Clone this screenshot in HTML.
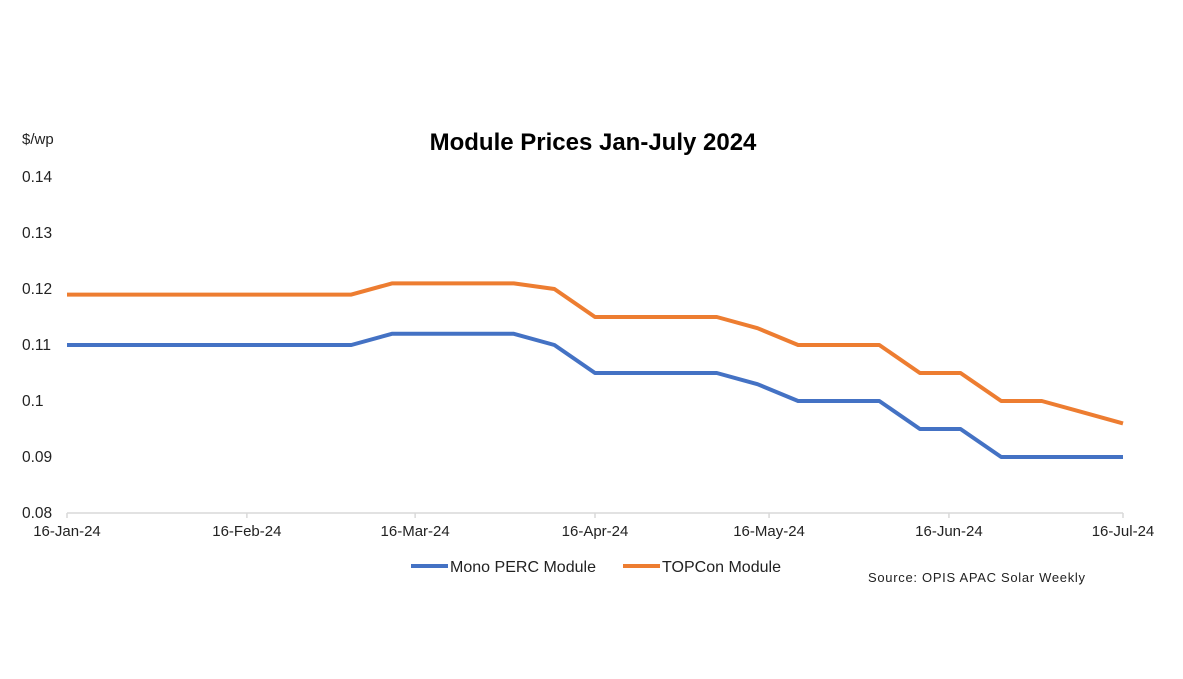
<!DOCTYPE html>
<html><head><meta charset="utf-8"><style>
html,body{margin:0;padding:0;background:#fff;}
svg{display:block;font-family:"Liberation Sans",Arial,sans-serif;}
</style></head><body>
<svg id="chart" width="1183" height="679" viewBox="0 0 1183 679">
<text x="593" y="150" text-anchor="middle" font-size="24" font-weight="bold" fill="#000">Module Prices Jan-July 2024</text>
<text x="22" y="144" font-size="15" fill="#222">$/wp</text>
<g id="yticks"></g>
<line x1="67" y1="513" x2="1123" y2="513" stroke="#d9d9d9" stroke-width="1.5"/>
<g id="xticks"></g>
<g id="series"></g>
<g>
<line x1="411" y1="566" x2="448" y2="566" stroke="#4472C4" stroke-width="4"/>
<text x="450" y="572" font-size="16" fill="#222" textLength="146">Mono PERC Module</text>
<line x1="623" y1="566" x2="660" y2="566" stroke="#ED7D31" stroke-width="4"/>
<text x="662" y="572" font-size="16" fill="#222" textLength="119">TOPCon Module</text>
</g>
<text x="868" y="582" font-size="13" fill="#222" textLength="217">Source: OPIS APAC Solar Weekly</text>
</svg>
<script>
const weekDays = [0,7,14,21,28,35,42,49,56,63,70,77,84,91,98,105,112,119,126,133,140,147,154,161,168,175,182];
const monoPerc = [0.11,0.11,0.11,0.11,0.11,0.11,0.11,0.11,0.112,0.112,0.112,0.112,0.11,0.105,0.105,0.105,0.105,0.103,0.1,0.1,0.1,0.095,0.095,0.09,0.09,0.09,0.09];
const topcon = [0.119,0.119,0.119,0.119,0.119,0.119,0.119,0.119,0.121,0.121,0.121,0.121,0.12,0.115,0.115,0.115,0.115,0.113,0.11,0.11,0.11,0.105,0.105,0.1,0.1,0.098,0.096];
const yTicks = [0.08,0.09,0.1,0.11,0.12,0.13,0.14];
const yTickLabels = ["0.08","0.09","0.1","0.11","0.12","0.13","0.14"];
const xTickDays = [0,31,60,91,121,152,182];
const xTickLabels = ["16-Jan-24","16-Feb-24","16-Mar-24","16-Apr-24","16-May-24","16-Jun-24","16-Jul-24"];

const NS="http://www.w3.org/2000/svg";
const X0=67,X1=1123,Y0=513,Y1=177,D0=0,D1=182,V0=0.08,V1=0.14;
function xs(d){return X0+(d-D0)/(D1-D0)*(X1-X0);}
function ys(v){return Y0-(v-V0)/(V1-V0)*(Y0-Y1);}

const yg=document.getElementById('yticks');
yTicks.forEach((v,i)=>{
  const t=document.createElementNS(NS,'text');
  t.setAttribute('x',22);t.setAttribute('y',ys(v)+5);
  t.setAttribute('font-size','15.5');t.setAttribute('fill','#222');
  t.textContent=yTickLabels[i];
  
  
  yg.appendChild(t);
});
const xg=document.getElementById('xticks');
xTickDays.forEach((d,i)=>{
  const l=document.createElementNS(NS,'line');
  l.setAttribute('x1',xs(d));l.setAttribute('x2',xs(d));
  l.setAttribute('y1',Y0);l.setAttribute('y2',Y0+5);
  l.setAttribute('stroke','#d9d9d9');l.setAttribute('stroke-width','1.5');
  
  
  xg.appendChild(l);
  const t=document.createElementNS(NS,'text');
  t.setAttribute('x',xs(d));t.setAttribute('y',536);
  t.setAttribute('text-anchor','middle');
  t.setAttribute('font-size','15');t.setAttribute('fill','#222');
  t.textContent=xTickLabels[i];
  
  
  xg.appendChild(t);
});
const sg=document.getElementById('series');
function drawLine(vals,color,name){
  const p=document.createElementNS(NS,'polyline');
  p.setAttribute('points',vals.map((v,i)=>xs(weekDays[i]).toFixed(1)+','+ys(v).toFixed(1)).join(' '));
  p.setAttribute('fill','none');p.setAttribute('stroke',color);
  p.setAttribute('stroke-width','4');p.setAttribute('stroke-linejoin','round');
  
  
  sg.appendChild(p);
}
drawLine(topcon,'#ED7D31','topcon-line');
drawLine(monoPerc,'#4472C4','mono-perc-line');
</script>
</body></html>
